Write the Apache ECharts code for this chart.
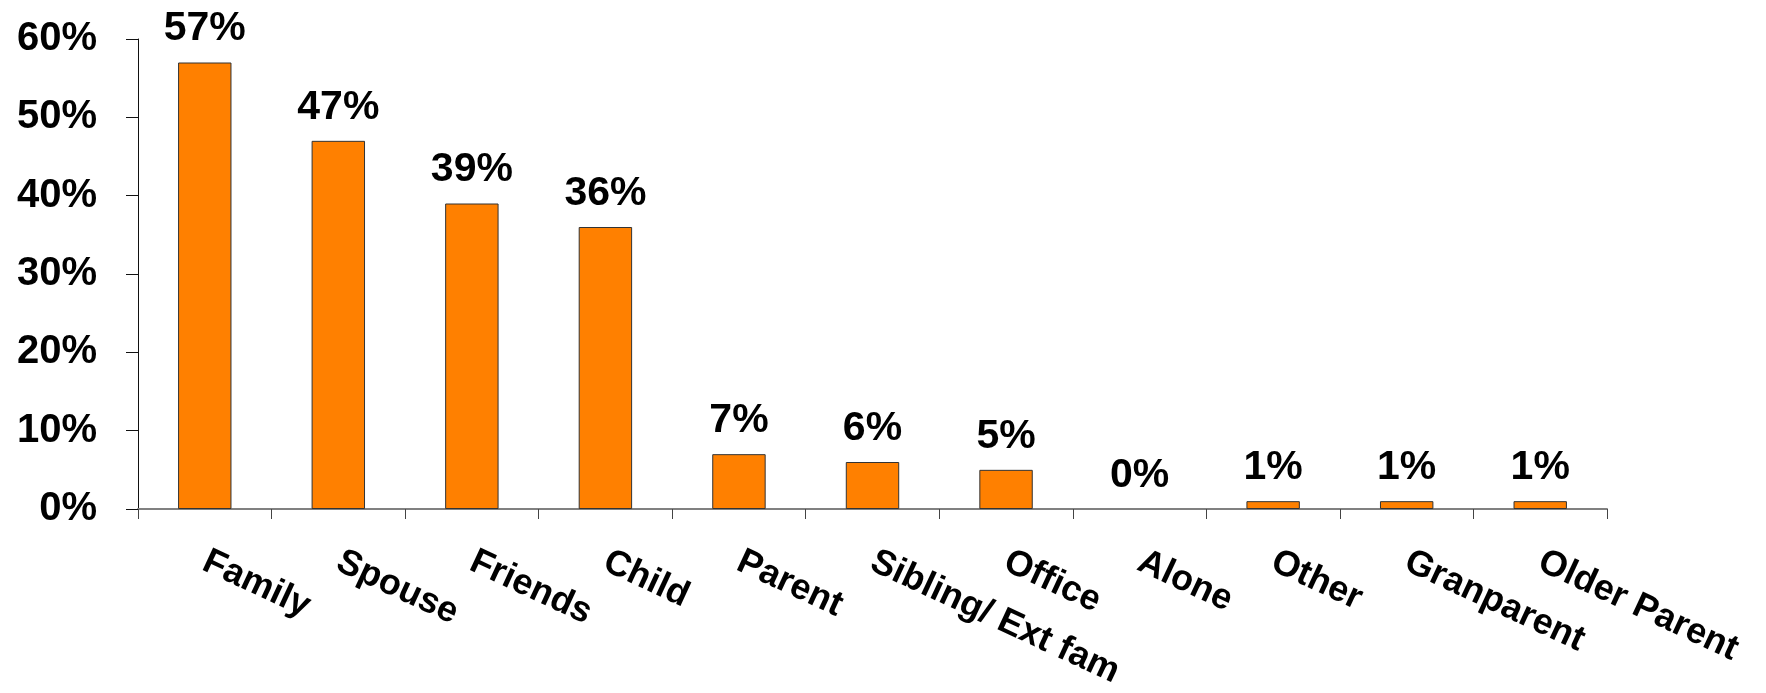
<!DOCTYPE html>
<html>
<head>
<meta charset="utf-8">
<style>
  html, body { margin: 0; padding: 0; background: #ffffff; }
  #chart { width: 1766px; height: 693px; }
</style>
<script src="https://cdn.jsdelivr.net/npm/echarts@6/dist/echarts.min.js"></script>
</head>
<body>
<div id="chart"></div>
<script>
// Who people are with — share of respondents per category
const categories = ['Family', 'Spouse', 'Friends', 'Child', 'Parent', 'Sibling/ Ext fam', 'Office', 'Alone', 'Other', 'Granparent', 'Older Parent'];
const shares = [57, 47, 39, 36, 7, 6, 5, 0, 1, 1, 1];
const yTicks = { min: 0, max: 60, interval: 10 };

const FONT = '"Liberation Sans", Arial, sans-serif';

// Empty bars get no outline so a 0% category shows only its label
const barData = shares.map(v => ({
  value: v,
  itemStyle: v === 0 ? { borderWidth: 0 } : undefined
}));

const chart = echarts.init(document.getElementById('chart'), null, { renderer: 'canvas' });
chart.setOption({
  animation: false,
  backgroundColor: '#ffffff',
  grid: { left: 138, right: 159, top: 39, bottom: 184, containLabel: false },
  xAxis: {
    type: 'category',
    data: categories,
    boundaryGap: true,
    axisLine: { show: true, lineStyle: { color: '#808080', width: 2 } },
    axisTick: { show: true, inside: false, length: 10, alignWithLabel: false, lineStyle: { color: '#444444', width: 1 } },
    axisLabel: {
      interval: 0,
      rotate: -25,
      margin: 51,
      color: '#000000',
      fontFamily: FONT,
      fontWeight: 'bold',
      fontSize: 36
    },
    splitLine: { show: false }
  },
  yAxis: {
    type: 'value',
    min: yTicks.min,
    max: yTicks.max,
    interval: yTicks.interval,
    axisLine: { show: true, lineStyle: { color: '#111111', width: 1 } },
    axisTick: { show: true, inside: false, length: 12, lineStyle: { color: '#111111', width: 1 } },
    axisLabel: {
      formatter: '{value}%',
      margin: 41,
      color: '#000000',
      fontFamily: FONT,
      fontWeight: 'bold',
      fontSize: 40
    },
    splitLine: { show: false }
  },
  series: [{
    type: 'bar',
    data: barData,
    barWidth: '40%',
    itemStyle: { color: '#FF8000', borderColor: '#333333', borderWidth: 1 },
    label: {
      show: true,
      position: 'top',
      distance: 13,
      formatter: '{c}%',
      color: '#000000',
      fontFamily: FONT,
      fontWeight: 'bold',
      fontSize: 41
    }
  }]
});
</script>
</body>
</html>
